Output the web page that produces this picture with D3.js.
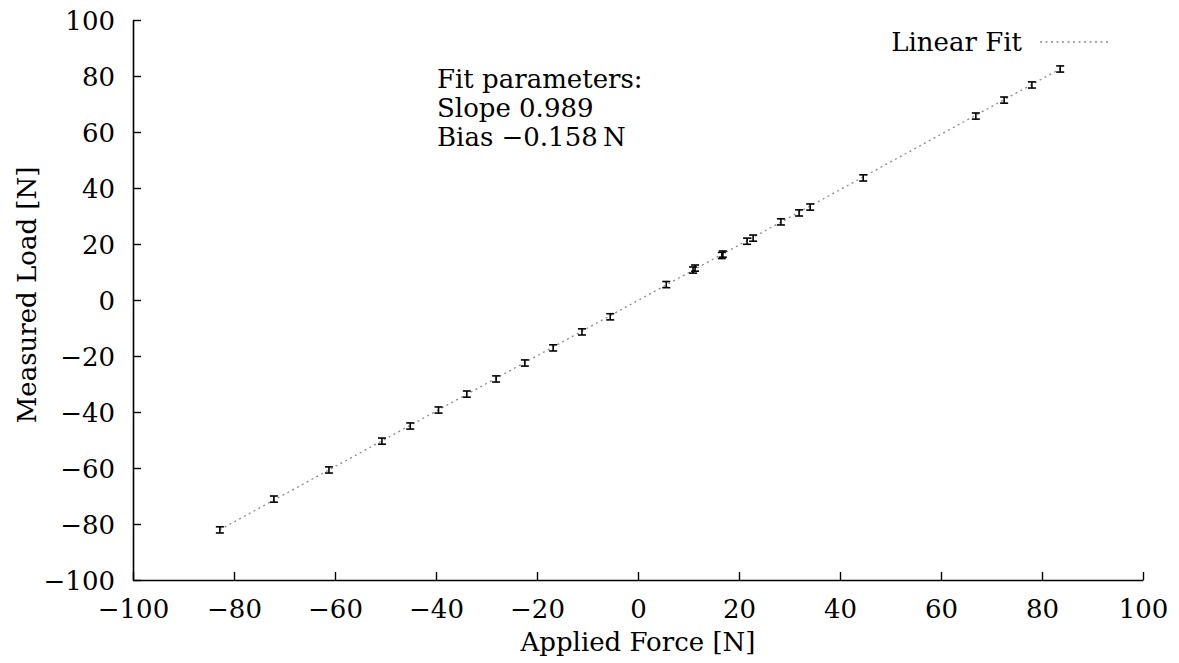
<!DOCTYPE html>
<html>
<head>
<meta charset="utf-8">
<script src="https://cdn.jsdelivr.net/npm/d3@7"></script>
<style>
  body { margin: 0; background: #fff; }
  #chart text { font-family: "DejaVu Serif", "Times New Roman", serif; fill: #000; }
</style>
</head>
<body>
<svg id="chart" width="1179" height="663"></svg>
<script>
// Measured points (applied force vs. measured load)
let appliedForce = [-82.8, -72.1, -61.2, -50.7, -45.1, -39.5, -33.9, -28.1, -22.4, -16.8, -11.1, -5.5,
    5.6, 10.9, 11.3, 16.6, 16.8, 21.6, 22.8, 28.3, 31.9, 34.1, 44.6, 66.9, 72.5, 78.0, 83.6];
let measuredLoad = [-82.1, -71.1, -60.7, -50.4, -45.0, -39.3, -33.6, -28.2, -22.5, -17.1, -11.4, -6.0,
    5.5, 10.7, 11.4, 15.9, 16.4, 21.0, 22.1, 27.9, 31.1, 33.2, 43.6, 65.7, 71.4, 76.8, 82.5];
let loadError = [1.1, 1.1, 1.1, 1.1, 1.1, 1.1, 1.1, 1.1, 1.1, 1.1, 1.1, 1.1,
    1.1, 1.1, 1.1, 1.1, 1.1, 1.1, 1.1, 1.1, 1.1, 1.1, 1.1, 1.1, 1.1, 1.1, 1.1];

let fitSlope = 0.989;
let fitBias = -0.158;
let xTicks = [-100, -80, -60, -40, -20, 0, 20, 40, 60, 80, 100];
let yTicks = [-100, -80, -60, -40, -20, 0, 20, 40, 60, 80, 100];
let infoLines = ["Fit parameters:", "Slope 0.989", "Bias \u22120.158\u2009N"];

let svg = d3.select("#chart");
let plotLeft = 133, plotRight = 1143, plotTop = 20, plotBottom = 580;
let fontSize = "26px";

let xScale = d3.scaleLinear().domain([-100, 100]).range([plotLeft, plotRight]);
let yScale = d3.scaleLinear().domain([-100, 100]).range([plotBottom, plotTop]);

let fmt = d => (d < 0 ? "\u2212" + Math.abs(d) : String(d));

// x axis
let xAxis = svg.append("g")
    .attr("transform", `translate(0,${plotBottom})`)
    .call(d3.axisBottom(xScale).tickValues(xTicks).tickFormat(fmt).tickSizeInner(-8).tickSizeOuter(0).tickPadding(20));
xAxis.attr("font-family", null);
xAxis.select(".domain").attr("stroke", "#000").attr("stroke-width", 1.6);
xAxis.selectAll(".tick line").attr("stroke", "#000").attr("stroke-width", 1.4);
xAxis.selectAll(".tick text").style("font-size", fontSize).attr("dy", "0.71em");

// y axis
let yAxis = svg.append("g")
    .attr("transform", `translate(${plotLeft},0)`)
    .call(d3.axisLeft(yScale).tickValues(yTicks).tickFormat(fmt).tickSizeInner(-8).tickSizeOuter(0).tickPadding(18));
yAxis.attr("font-family", null);
yAxis.select(".domain").attr("stroke", "#000").attr("stroke-width", 1.6);
yAxis.selectAll(".tick line").attr("stroke", "#000").attr("stroke-width", 1.4);
yAxis.selectAll(".tick text").style("font-size", fontSize).attr("dy", "0.36em");

// fitted line across the data range
let xMin = d3.min(appliedForce), xMax = d3.max(appliedForce);
let fitLine = d3.line().x(d => xScale(d)).y(d => yScale(fitSlope * d + fitBias));
svg.append("path")
    .datum([xMin, xMax])
    .attr("d", fitLine)
    .attr("fill", "none")
    .attr("stroke", "#8a8a8a")
    .attr("stroke-width", 1.3)
    .attr("stroke-dasharray", "2,3.5");

// error bars
let points = appliedForce.map((x, i) => ({ x: x, y: measuredLoad[i], e: loadError[i] }));
let bars = svg.append("g").attr("stroke", "#000").attr("stroke-width", 1.6);
points.forEach(p => {
    let cx = xScale(p.x);
    let y0 = yScale(p.y - p.e), y1 = yScale(p.y + p.e);
    bars.append("line").attr("x1", cx).attr("x2", cx).attr("y1", y0).attr("y2", y1);
    bars.append("line").attr("x1", cx - 4).attr("x2", cx + 4).attr("y1", y0).attr("y2", y0);
    bars.append("line").attr("x1", cx - 4).attr("x2", cx + 4).attr("y1", y1).attr("y2", y1);
});

// axis labels
svg.append("text")
    .attr("x", (plotLeft + plotRight) / 2)
    .attr("y", 651)
    .attr("text-anchor", "middle")
    .style("font-size", fontSize)
    .text("Applied Force [N]");

svg.append("text")
    .attr("transform", `translate(36,${(plotTop + plotBottom) / 2 - 5}) rotate(-90)`)
    .attr("text-anchor", "middle")
    .style("font-size", fontSize)
    .text("Measured Load [N]");

// legend
svg.append("text")
    .attr("x", 1022)
    .attr("y", 51)
    .attr("text-anchor", "end")
    .style("font-size", fontSize)
    .text("Linear Fit");
svg.append("line")
    .attr("x1", 1040).attr("x2", 1111)
    .attr("y1", 42).attr("y2", 42)
    .attr("stroke", "#8a8a8a")
    .attr("stroke-width", 1.3)
    .attr("stroke-dasharray", "2,3.5");

// fit parameters annotation
svg.append("g").selectAll("text")
    .data(infoLines)
    .enter()
    .append("text")
    .attr("x", 437)
    .attr("y", (d, i) => 88 + i * 29)
    .style("font-size", fontSize)
    .text(d => d);
</script>
</body>
</html>
